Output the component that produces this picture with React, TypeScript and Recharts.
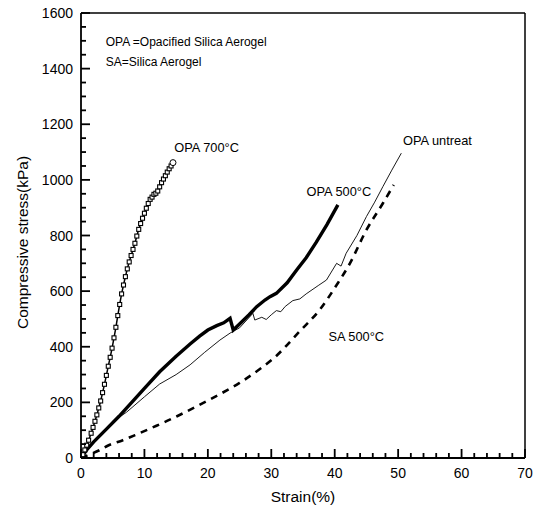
import React from 'react';
import { LineChart, Line, XAxis, YAxis, ReferenceLine, ReferenceDot, Label } from 'recharts';

// OPA heat-treated at 700 °C
const opa700Strain = [0, 0.3, 0.6, 0.9, 1.2, 1.6, 1.9, 2.2, 2.5, 2.8, 3.1, 3.4, 3.7, 4.0, 4.3, 4.6, 4.9, 5.2, 5.5, 5.8, 6.1, 6.4, 6.7, 7.0, 7.3, 7.6, 7.9, 8.2, 8.5, 8.8, 9.1, 9.4, 9.7, 10.0, 10.3, 10.6, 10.9, 11.2, 11.5, 11.8, 12.1, 12.4, 12.7, 13.0, 13.3, 13.6, 13.9, 14.2, 14.5];
const opa700Stress = [0, 12, 29, 46, 64, 89, 110, 132, 155, 180, 205, 235, 265, 297, 330, 362, 395, 432, 470, 512, 552, 590, 622, 652, 680, 705, 728, 750, 772, 798, 822, 843, 862, 880, 898, 915, 930, 938, 948, 952, 960, 975, 990, 1003, 1015, 1028, 1040, 1050, 1062];

// OPA heat-treated at 500 °C
const opa500Strain = [0, 1.0, 2.0, 4.0, 6.0, 8.0, 10.0, 12.4, 15.0, 17.2, 18.7, 20.0, 21.4, 22.5, 23.5, 24.0, 25.0, 26.5, 27.7, 29.0, 29.8, 30.8, 32.5, 34.0, 35.5, 37.1, 38.8, 40.5];
const opa500Stress = [0, 32, 58, 104, 150, 200, 250, 310, 366, 410, 438, 460, 476, 486, 502, 460, 482, 515, 544, 568, 580, 592, 630, 676, 720, 776, 840, 910];

// Untreated OPA
const untreatStrain = [0, 1.0, 2.0, 4.0, 6.0, 7.2, 10.0, 12.4, 15.0, 17.2, 19.5, 21.9, 23.5, 25.0, 27.1, 27.4, 28.5, 29.2, 30.0, 30.8, 31.5, 32.2, 33.4, 34.5, 35.5, 37.4, 38.7, 40.3, 41.0, 41.8, 43.5, 45.0, 46.3, 47.6, 49.0, 50.5];
const untreatStress = [0, 30, 56, 100, 146, 165, 220, 266, 300, 335, 380, 424, 449, 468, 520, 496, 506, 498, 515, 530, 526, 545, 566, 572, 590, 620, 640, 700, 690, 736, 800, 868, 920, 976, 1035, 1096];

// Silica aerogel heat-treated at 500 °C
const sa500Strain = [0, 1.3, 2.9, 4.2, 6.6, 8.9, 11.3, 13.1, 15.3, 20.3, 23.2, 25.0, 28.2, 30.3, 34.5, 37.6, 40.3, 42.4, 45.0, 47.6, 49.3];
const sa500Stress = [0, 12, 28, 44, 64, 86, 110, 128, 152, 210, 246, 270, 320, 357, 456, 532, 622, 700, 820, 916, 982];

const xMajorTicks = [0, 10, 20, 30, 40, 50, 60, 70];
const yMajorTicks = [0, 200, 400, 600, 800, 1000, 1200, 1400, 1600];

const xAllTicks: number[] = [];
for (let v = 0; v <= 70; v += 2) xAllTicks.push(v);
const yAllTicks: number[] = [];
for (let v = 0; v <= 1600; v += 50) yAllTicks.push(v);

const zip = (xs: number[], ys: number[]) => xs.map((x, i) => ({ x, y: ys[i] }));

const opa700Data = zip(opa700Strain, opa700Stress);
const opa500Data = zip(opa500Strain, opa500Stress);
const untreatData = zip(untreatStrain, untreatStress);
const sa500Data = zip(sa500Strain, sa500Stress);

const FONT = '"Liberation Sans", Arial, sans-serif';
const MAJOR_LEN = 9;
const MINOR_LEN = 5;
const TICK_W = 1.8;

// Labels plus inward tick marks drawn from the tick anchor on the axis line
const YTick = (props: any) => {
  const x = Number(props.x);
  const y = Number(props.y);
  const value = props.payload.value;
  const major = yMajorTicks.includes(value);
  return (
    <g>
      <rect x={x} y={y - TICK_W / 2} width={major ? MAJOR_LEN : MINOR_LEN} height={TICK_W} fill="#000" />
      {major && (
        <text x={x - 8} y={y} dy={5} textAnchor="end" fontSize={14} fontFamily={FONT} fill="#000">
          {value}
        </text>
      )}
    </g>
  );
};

const XTick = (props: any) => {
  const x = Number(props.x);
  const y = Number(props.y);
  const value = props.payload.value;
  const major = xMajorTicks.includes(value);
  const len = major ? MAJOR_LEN : MINOR_LEN;
  return (
    <g>
      <rect x={x - TICK_W / 2} y={y - len} width={TICK_W} height={len} fill="#000" />
      {major && (
        <text x={x} y={y + 20} textAnchor="middle" fontSize={14} fontFamily={FONT} fill="#000">
          {value}
        </text>
      )}
    </g>
  );
};

const SquareDot = (props: any) => {
  const { cx, cy, index } = props;
  if (cx == null || cy == null) return null;
  if (index === opa700Data.length - 1) {
    return <circle key={index} cx={cx} cy={cy} r={3} fill="#fff" stroke="#000" strokeWidth={1} />;
  }
  return <rect key={index} x={cx - 2} y={cy - 2} width={4} height={4} fill="#fff" stroke="#000" strokeWidth={1.1} />;
};

const noteLabel = (text: string) => (p: any) => {
  const { x, y } = p.viewBox;
  return (
    <text x={x} y={y} dy={4.5} textAnchor="middle" fontSize={12.8} fontFamily={FONT} fill="#000">
      {text}
    </text>
  );
};

const leftLabel = (text: string) => (p: any) => {
  const { x, y } = p.viewBox;
  return (
    <text x={x} y={y} dy={4.5} textAnchor="start" fontSize={12} fontFamily={FONT} fill="#000">
      {text}
    </text>
  );
};

export default function App() {
  return (
    <div style={{ position: 'absolute', left: 0, top: 0, background: '#fff' }}>
      <LineChart width={540} height={512} margin={{ top: 13, right: 15, bottom: 14, left: 21 }}>
        <XAxis
          type="number"
          dataKey="x"
          domain={[0, 70]}
          ticks={xAllTicks}
          interval={0}
          height={40}
          tickSize={0}
          tickMargin={0}
          tickLine={false}
          tick={<XTick />}
          axisLine={{ stroke: '#000', strokeWidth: 1.8 }}
          allowDataOverflow
        >
          <Label
            content={(p: any) => {
              const { x, y, width } = p.viewBox;
              return (
                <text x={x + width / 2} y={y + 44} textAnchor="middle" fontSize={15.5} fontFamily={FONT} fill="#000">
                  Strain(%)
                </text>
              );
            }}
          />
        </XAxis>
        <YAxis
          type="number"
          dataKey="y"
          domain={[0, 1600]}
          ticks={yAllTicks}
          interval={0}
          width={60}
          tickSize={0}
          tickMargin={0}
          tickLine={false}
          tick={<YTick />}
          axisLine={{ stroke: '#000', strokeWidth: 1.8 }}
          allowDataOverflow
        >
          <Label
            content={(p: any) => {
              const { x, y, width, height } = p.viewBox;
              return (
                <text
                  transform={`translate(${x + width - 53},${y + height / 2 + 7}) rotate(-90)`}
                  textAnchor="middle"
                  fontSize={15.5}
                  fontFamily={FONT}
                  fill="#000"
                >
                  Compressive stress(kPa)
                </text>
              );
            }}
          />
        </YAxis>
        <ReferenceLine y={1600} stroke="#000" strokeWidth={1.5} />
        <ReferenceLine x={70} stroke="#000" strokeWidth={1.5} />

        <Line
          data={sa500Data}
          dataKey="y"
          type="monotone"
          stroke="#000"
          strokeWidth={2.6}
          strokeDasharray="7 6"
          dot={false}
          isAnimationActive={false}
        />
        <Line
          data={untreatData}
          dataKey="y"
          type="linear"
          stroke="#000"
          strokeWidth={0.9}
          dot={false}
          isAnimationActive={false}
        />
        <Line
          data={opa500Data}
          dataKey="y"
          type="linear"
          stroke="#000"
          strokeWidth={3.4}
          dot={false}
          isAnimationActive={false}
        />
        <Line
          data={opa700Data}
          dataKey="y"
          type="linear"
          stroke="#000"
          strokeWidth={1.5}
          dot={<SquareDot />}
          isAnimationActive={false}
        />

        <ReferenceDot x={3.9} y={1496} r={0} label={{ content: leftLabel('OPA =Opacified Silica Aerogel') }} />
        <ReferenceDot x={3.9} y={1424} r={0} label={{ content: leftLabel('SA=Silica Aerogel') }} />
        <ReferenceDot x={19.8} y={1115} r={0} label={{ content: noteLabel('OPA 700°C') }} />
        <ReferenceDot x={40.65} y={958} r={0} label={{ content: noteLabel('OPA 500°C') }} />
        <ReferenceDot x={56.2} y={1141} r={0} label={{ content: noteLabel('OPA untreat') }} />
        <ReferenceDot x={43.4} y={436} r={0} label={{ content: noteLabel('SA 500°C') }} />
      </LineChart>
    </div>
  );
}
